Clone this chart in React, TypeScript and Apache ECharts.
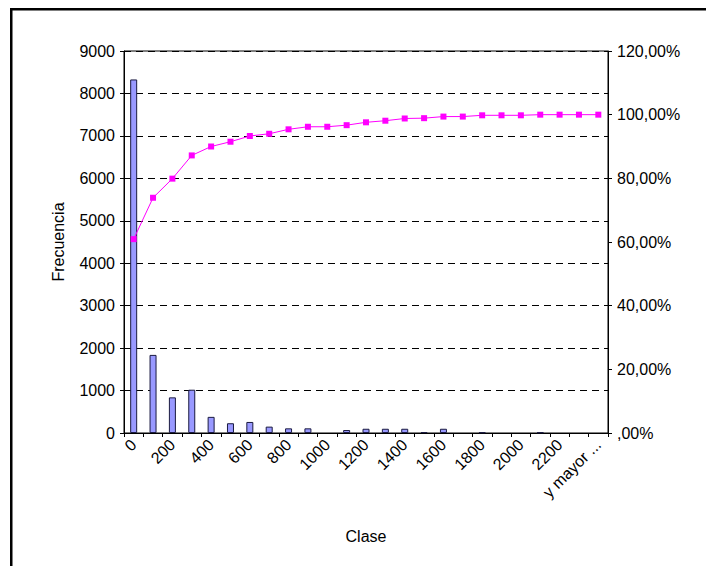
import React, { useEffect, useRef } from "react";
import * as echarts from "echarts";

const categories = [
  "0", "100", "200", "300", "400", "500", "600", "700", "800", "900",
  "1000", "1100", "1200", "1300", "1400", "1500", "1600", "1700", "1800", "1900",
  "2000", "2100", "2200", "2300", "y mayor ...",
];

const frequency = [
  8330, 1840, 840, 1020, 380, 230, 260, 150, 110, 110,
  0, 70, 100, 100, 100, 20, 100, 0, 15, 0,
  0, 15, 0, 0, 0,
];

const cumulativePct = [
  60.9, 73.9, 79.9, 87.2, 90.0, 91.5, 93.3, 94.0, 95.4, 96.2,
  96.2, 96.7, 97.6, 98.1, 98.8, 98.9, 99.4, 99.4, 99.8, 99.8,
  99.8, 100, 100, 100, 100,
];

const FONT = "'Liberation Sans', Arial, sans-serif";
const FS = 16;

export default function App() {
  const ref = useRef<HTMLDivElement>(null);

  useEffect(() => {
    if (!ref.current) return;
    const chart = echarts.init(ref.current, undefined, { renderer: "svg" });
    const fmtPct = (v: number) =>
      v === 0 ? ",00%" : v.toFixed(2).replace(".", ",") + "%";
    chart.setOption({
      animation: false,
      backgroundColor: "#ffffff",
      textStyle: { fontFamily: FONT },
      grid: {
        left: 124,
        right: 98,
        top: 51,
        bottom: 133,
        containLabel: false,
        show: true,
        borderColor: "#000",
        borderWidth: 1,
        backgroundColor: "transparent",
      },
      graphic: [
        { type: "rect", shape: { x: 10, y: 8, width: 696, height: 2.5 }, style: { fill: "#000" } },
        { type: "rect", shape: { x: 10, y: 8, width: 2.5, height: 558 }, style: { fill: "#000" } },
      ],
      xAxis: {
        type: "category",
        data: categories,
        name: "Clase",
        nameLocation: "middle",
        nameGap: 95,
        nameTextStyle: { fontSize: FS, color: "#000", fontFamily: FONT },
        axisLine: { lineStyle: { color: "#000", width: 1 } },
        axisTick: { show: true, interval: 0, length: 4, lineStyle: { color: "#000" } },
        axisLabel: {
          interval: 1,
          rotate: 45,
          fontSize: FS,
          color: "#000",
          margin: 9,
          fontFamily: FONT,
        },
      },
      yAxis: [
        {
          type: "value",
          min: 0,
          max: 9000,
          interval: 1000,
          name: "Frecuencia",
          nameLocation: "middle",
          nameGap: 58,
          nameTextStyle: { fontSize: FS, color: "#000", fontFamily: FONT },
          axisLine: { show: true, lineStyle: { color: "#000", width: 1 } },
          axisTick: { show: true, length: 4, lineStyle: { color: "#000" } },
          axisLabel: {
            fontSize: FS,
            color: "#000",
            margin: 9,
            fontFamily: FONT,
            formatter: (v: number) => String(v),
          },
          splitLine: {
            show: true,
            lineStyle: { color: "#000", type: [7, 5], width: 1 },
          },
        },
        {
          type: "value",
          min: 0,
          max: 120,
          interval: 20,
          position: "right",
          axisLine: { show: true, lineStyle: { color: "#000", width: 1 } },
          axisTick: { show: true, length: 4, lineStyle: { color: "#000" } },
          axisLabel: {
            fontSize: FS,
            color: "#000",
            margin: 9,
            fontFamily: FONT,
            formatter: fmtPct,
          },
          splitLine: { show: false },
        },
      ],
      series: [
        {
          type: "bar",
          name: "Frecuencia",
          data: frequency.map((v) => (v === 0 ? null : v)),
          barWidth: 7,
          itemStyle: { color: "#9999ff", borderColor: "#1a1a40", borderWidth: 1 },
        },
        {
          type: "line",
          name: "% acumulado",
          yAxisIndex: 1,
          data: cumulativePct,
          symbol: "rect",
          symbolSize: 6,
          lineStyle: { color: "#ff00ff", width: 1 },
          itemStyle: { color: "#ff00ff" },
        },
      ],
    });
    return () => chart.dispose();
  }, []);

  return (
    <div
      ref={ref}
      style={{ position: "absolute", left: 0, top: 0, width: 706, height: 566 }}
    />
  );
}
